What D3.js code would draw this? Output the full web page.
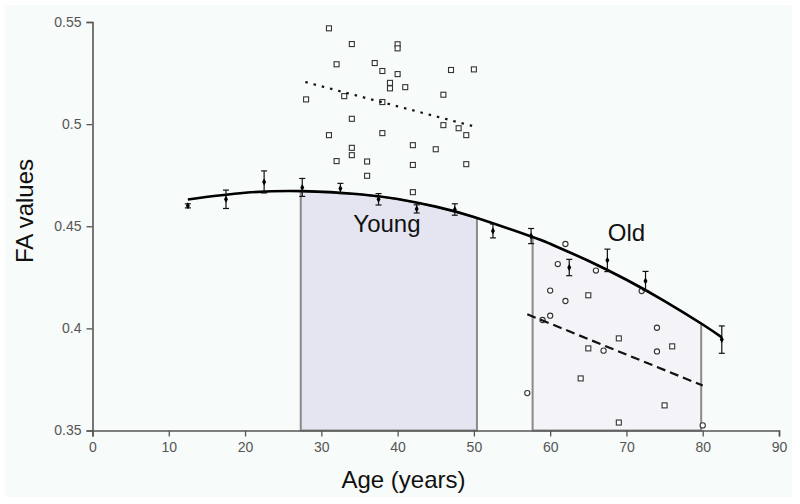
<!DOCTYPE html>
<html><head><meta charset="utf-8">
<script src="https://cdn.jsdelivr.net/npm/d3@7"></script>
<style>html,body{margin:0;padding:0;background:#fff}svg{display:block}</style>
</head><body>
<svg id="chart" width="800" height="504"></svg>
<script>
// ---- data ----
const xTicks = [0,10,20,30,40,50,60,70,80,90];
const yTicks = [0.35,0.4,0.45,0.5,0.55];
const yTickLabels = ["0.35","0.4","0.45","0.5","0.55"];

// group means with error bars
const meanAge = [12.5,17.5,22.5,27.5,32.5,37.5,42.5,47.5,52.5,57.5,62.5,67.5,72.5,82.5];
const meanFA  = [0.4600,0.4632,0.4717,0.4690,0.4685,0.4632,0.4585,0.4582,0.4477,0.4452,0.4298,0.4333,0.4232,0.3945];
const meanErr = [0.0010,0.0045,0.0054,0.0044,0.0025,0.0028,0.0020,0.0028,0.0034,0.0037,0.0040,0.0055,0.0047,0.0067];

// fitted trend curve
const fitAge = [12.5,20,27.5,35,40,45,50,57.5,60,65,70,75,80,82.5];
const fitFA  = [0.4631,0.4664,0.4672,0.4657,0.4633,0.4596,0.4545,0.4450,0.4414,0.4331,0.4238,0.4134,0.4019,0.3956];

// young subjects (squares)
const youngAge = [31,34,40,40,32,37,38,40,47,50,39,39,41,46,28,33,38,34,46,48,49,31,38,34,34,42,45,32,36,42,49,36,42];
const youngFA  = [0.5469,0.5392,0.5391,0.5371,0.5293,0.5299,0.5260,0.5245,0.5265,0.5268,0.5202,0.5175,0.5181,0.5144,0.5121,0.5137,0.5108,0.5026,0.4995,0.4980,0.4946,0.4946,0.4956,0.4884,0.4848,0.4897,0.4877,0.4819,0.4817,0.4800,0.4804,0.4747,0.4667];
const youngTrendAge = [27.9,50.0];
const youngTrendFA  = [0.5206,0.4989];

// old subjects: circles and squares
const oldCircAge = [62,61,66,60,62,60,59,72,74,67,74,57,80];
const oldCircFA  = [0.4413,0.4315,0.4283,0.4185,0.4134,0.4062,0.4041,0.4183,0.4003,0.3891,0.3887,0.3683,0.3525];
const oldSqAge = [65,69,65,76,64,75,69];
const oldSqFA  = [0.4162,0.3951,0.3902,0.3912,0.3755,0.3623,0.3539];
const oldTrendAge = [57.0,80.0];
const oldTrendFA  = [0.4069,0.3720];

// shaded age ranges
const regionNames = ["Young","Old"];
const regionStart = [27.3,57.7];
const regionEnd   = [50.4,79.8];
const regionFill  = ["#e5e5f1","#f3f3f8"];
const regionLabelAge = [38.6,70.0];

// ---- drawing ----
const svg = d3.select("#chart");
svg.append("rect").attr("x",5).attr("y",5).attr("width",787).attr("height",492).attr("fill","#f7fbf9");

const x = d3.scaleLinear().domain([0,90]).range([92.5,779]);
const y = d3.scaleLinear().domain([0.35,0.55]).range([430.5,22]);

function interpFit(a){
  for(let i=0;i<fitAge.length-1;i++){
    if(a>=fitAge[i] && a<=fitAge[i+1]){
      const t=(a-fitAge[i])/(fitAge[i+1]-fitAge[i]);
      return fitFA[i]+t*(fitFA[i+1]-fitFA[i]);
    }
  }
  return fitFA[fitFA.length-1];
}

// shaded regions
regionNames.forEach((n,k)=>{
  const a0=regionStart[k], a1=regionEnd[k];
  const pts=[[a0,0.35],[a0,interpFit(a0)]];
  fitAge.forEach((a,i)=>{ if(a>a0 && a<a1) pts.push([a,fitFA[i]]); });
  pts.push([a1,interpFit(a1)],[a1,0.35]);
  svg.append("path")
    .attr("d", d3.line().x(d=>x(d[0])).y(d=>y(d[1]))(pts)+"Z")
    .attr("fill",regionFill[k]).attr("stroke","#8a8a8a").attr("stroke-width",2);
});

// axes
const axisColor="#555";
const gx = svg.append("g").attr("transform",`translate(0,${y(0.35)})`)
  .call(d3.axisBottom(x).tickValues(xTicks).tickSize(6).tickPadding(6).tickFormat(d3.format("d")));
const gy = svg.append("g").attr("transform",`translate(${x(0)},0)`)
  .call(d3.axisLeft(y).tickValues(yTicks).tickSize(6).tickPadding(5).tickFormat((d,i)=>yTickLabels[i]));
[gx,gy].forEach(g=>{
  g.select(".domain").attr("stroke",axisColor).attr("stroke-width",1.6);
  g.selectAll(".tick line").attr("stroke",axisColor).attr("stroke-width",1.3);
  g.selectAll(".tick text").attr("fill","#555").attr("font-family","Liberation Sans, Arial, sans-serif").attr("font-size",14);
});

// young scatter
svg.append("g").selectAll("rect").data(youngAge).join("rect")
  .attr("x",(d,i)=>x(d)-2.5).attr("y",(d,i)=>y(youngFA[i])-2.5)
  .attr("width",5).attr("height",5).attr("fill","#fff").attr("stroke","#333").attr("stroke-width",1.1);
// old scatter
svg.append("g").selectAll("rect").data(oldSqAge).join("rect")
  .attr("x",(d,i)=>x(d)-2.5).attr("y",(d,i)=>y(oldSqFA[i])-2.5)
  .attr("width",5).attr("height",5).attr("fill","#fff").attr("stroke","#333").attr("stroke-width",1.1);
svg.append("g").selectAll("circle").data(oldCircAge).join("circle")
  .attr("cx",d=>x(d)).attr("cy",(d,i)=>y(oldCircFA[i])).attr("r",2.6)
  .attr("fill","#fff").attr("stroke","#333").attr("stroke-width",1.1);

// trend lines
const lineGen = d3.line().x(d=>x(d[0])).y(d=>y(d[1]));
svg.append("path").attr("d",lineGen(youngTrendAge.map((a,i)=>[a,youngTrendFA[i]])))
  .attr("stroke","#111").attr("stroke-width",2.2).attr("stroke-dasharray","2.5,6").attr("fill","none");
svg.append("path").attr("d",lineGen(oldTrendAge.map((a,i)=>[a,oldTrendFA[i]])))
  .attr("stroke","#111").attr("stroke-width",2.2).attr("stroke-dasharray","9,5").attr("fill","none");

// fit curve
svg.append("path")
  .attr("d",d3.line().curve(d3.curveNatural).x(d=>x(d[0])).y(d=>y(d[1]))(fitAge.map((a,i)=>[a,fitFA[i]])))
  .attr("stroke","#000").attr("stroke-width",2.6).attr("fill","none");

// error bars and mean markers
const eb = svg.append("g").attr("stroke","#111").attr("stroke-width",1.2);
meanAge.forEach((a,i)=>{
  const cx=x(a), y1=y(meanFA[i]+meanErr[i]), y2=y(meanFA[i]-meanErr[i]);
  eb.append("line").attr("x1",cx).attr("x2",cx).attr("y1",y1).attr("y2",y2);
  eb.append("line").attr("x1",cx-3).attr("x2",cx+3).attr("y1",y1).attr("y2",y1);
  eb.append("line").attr("x1",cx-3).attr("x2",cx+3).attr("y1",y2).attr("y2",y2);
});
svg.append("g").selectAll("path").data(meanAge).join("path")
  .attr("d",d3.symbol().type(d3.symbolDiamond).size(14))
  .attr("transform",(d,i)=>`translate(${x(d)},${y(meanFA[i])})`)
  .attr("fill","#000");

// labels
const font="Liberation Sans, Arial, sans-serif";
svg.append("text").attr("x",x(regionLabelAge[0])).attr("y",232).attr("text-anchor","middle")
  .attr("font-family",font).attr("font-size",24).attr("fill","#111").text(regionNames[0]);
svg.append("text").attr("x",x(regionLabelAge[1])).attr("y",241).attr("text-anchor","middle")
  .attr("font-family",font).attr("font-size",24).attr("fill","#111").text(regionNames[1]);
svg.append("text").attr("transform","translate(33,211) rotate(-90)").attr("text-anchor","middle")
  .attr("font-family",font).attr("font-size",24).attr("fill","#111").text("FA values");
svg.append("text").attr("x",403.5).attr("y",488).attr("text-anchor","middle")
  .attr("font-family",font).attr("font-size",24).attr("fill","#111").text("Age (years)");
</script>
</body></html>
